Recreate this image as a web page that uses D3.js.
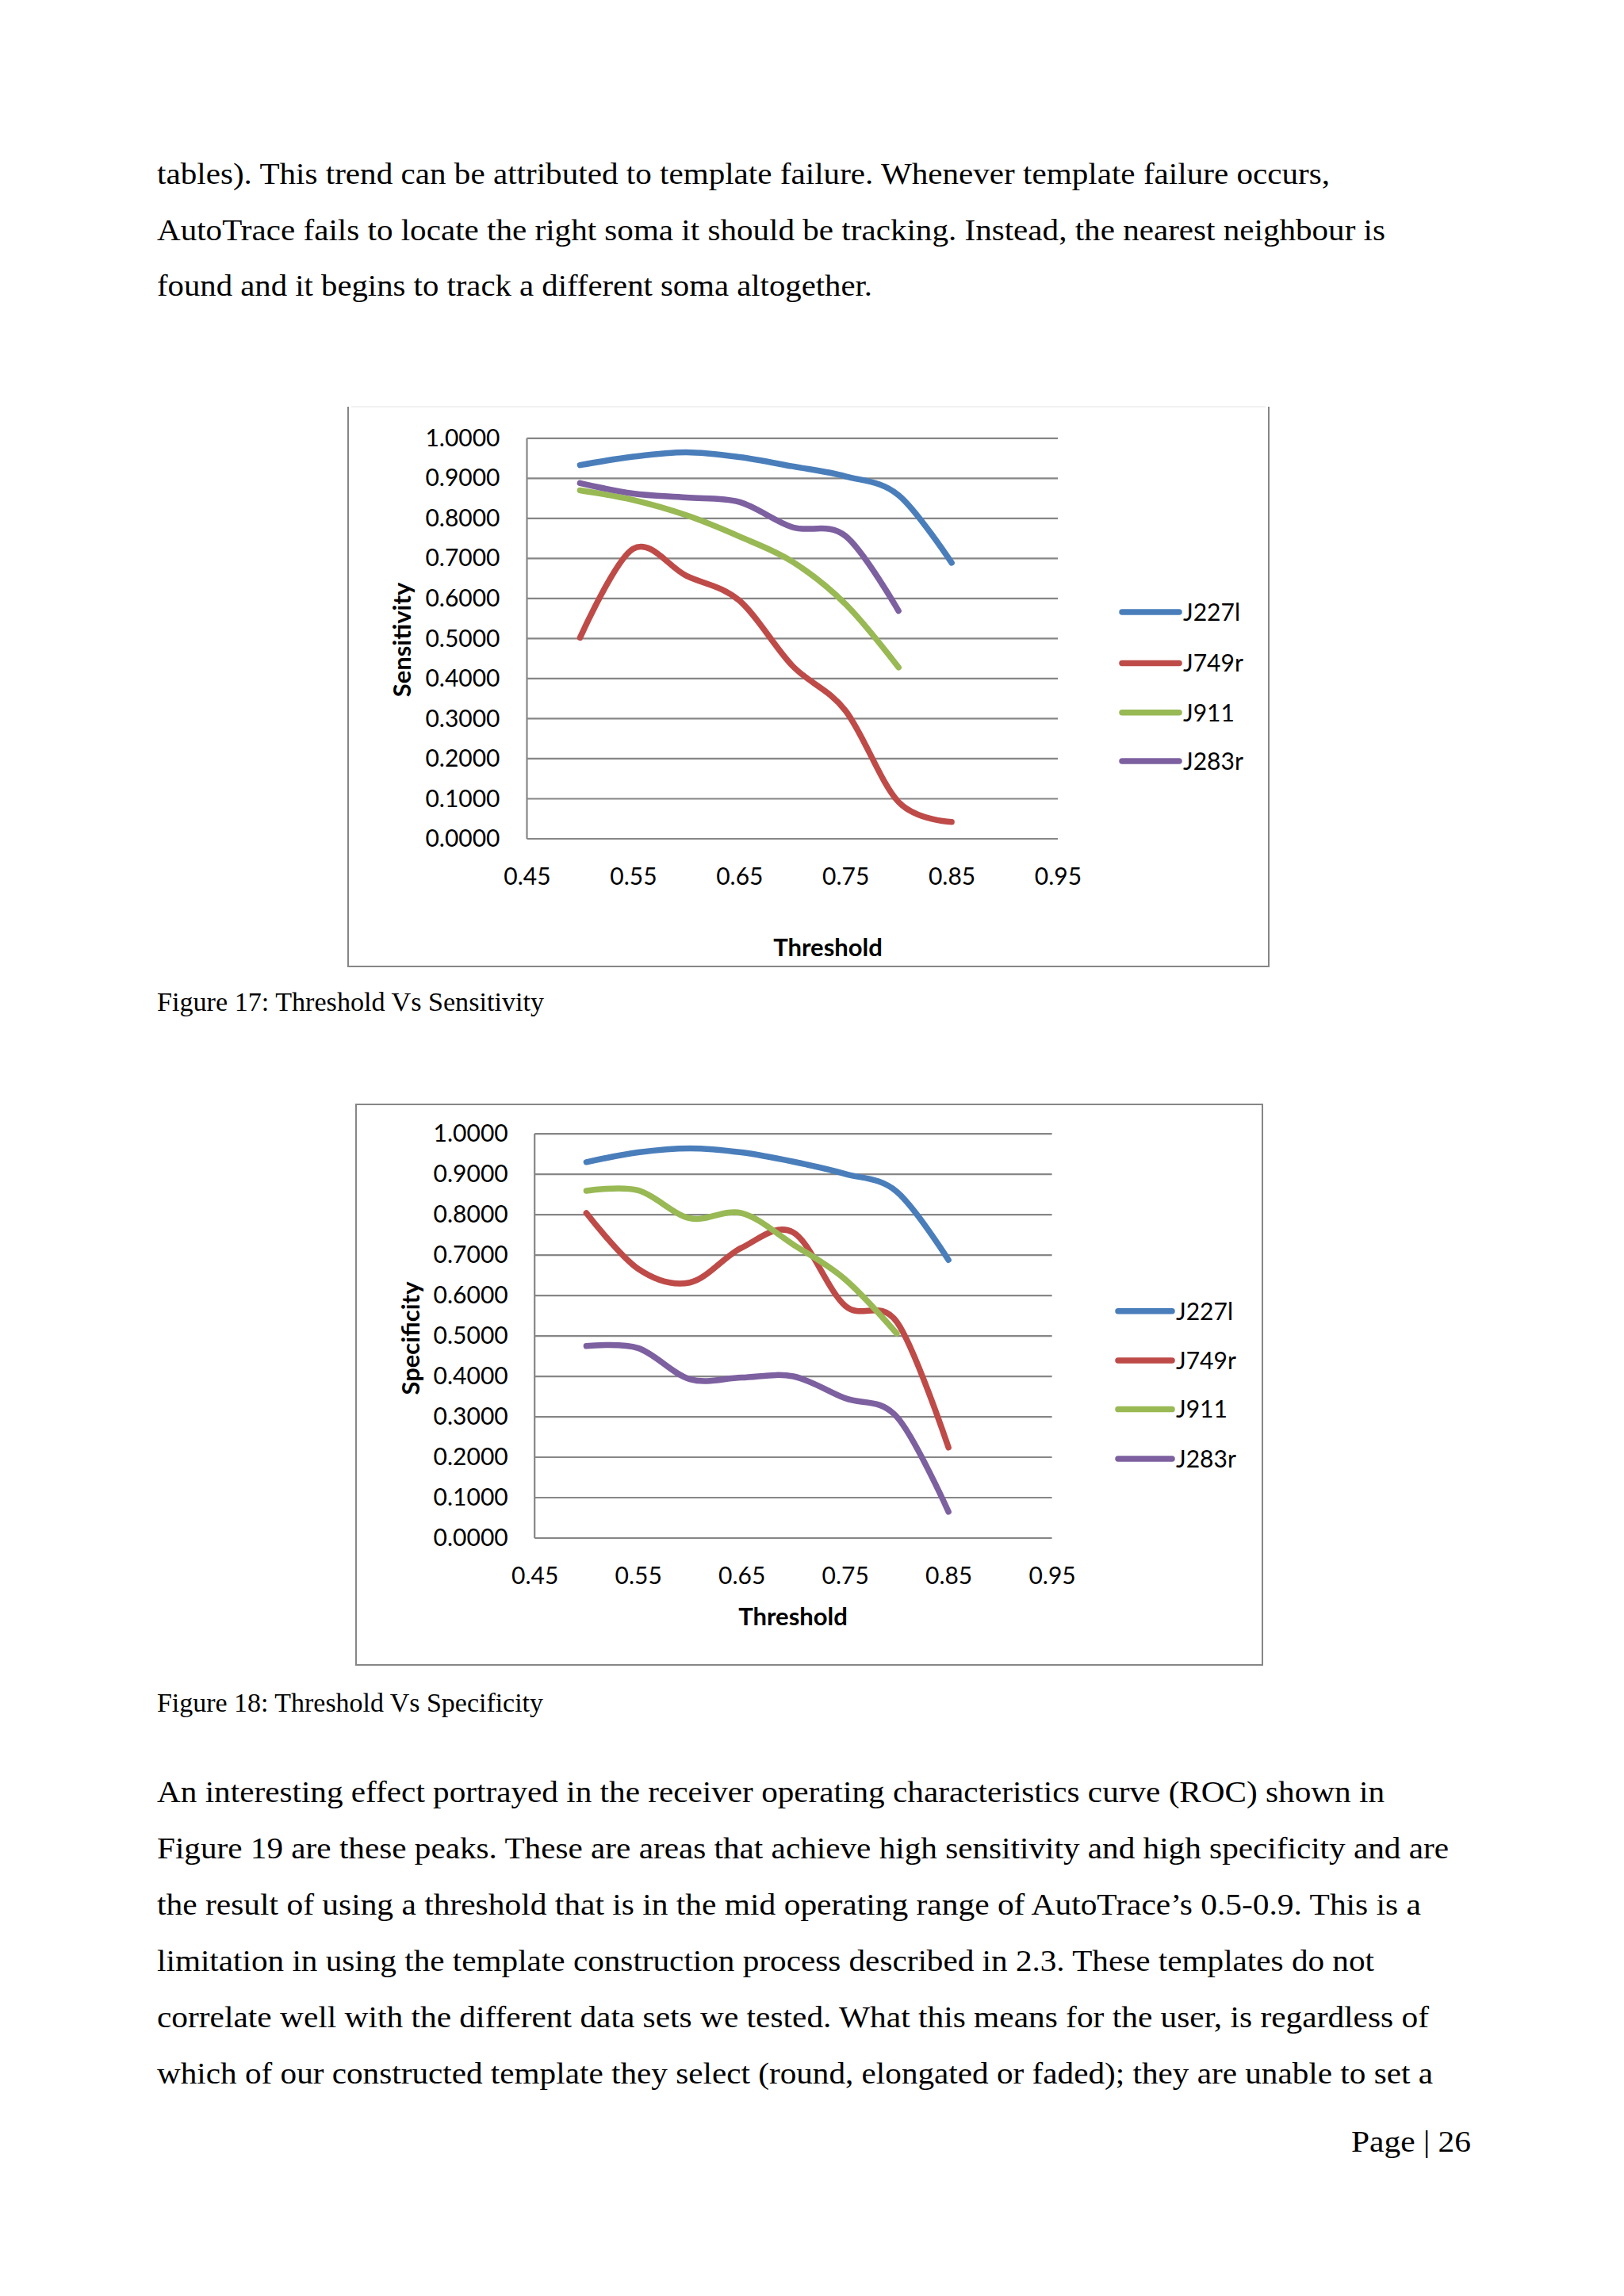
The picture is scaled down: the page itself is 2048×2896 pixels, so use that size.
<!DOCTYPE html>
<html>
<head>
<meta charset="utf-8">
<script src="https://cdn.jsdelivr.net/npm/d3@7"></script>
<style>
  html, body { margin: 0; padding: 0; background: #ffffff; }
  svg { display: block; }
</style>
</head>
<body>
<script>
// ---------------- DATA ----------------
const thresholds = [0.50, 0.55, 0.60, 0.65, 0.70, 0.75, 0.80, 0.85];
const seriesNames = ["J227l", "J749r", "J911", "J283r"];
const seriesColors = ["#4A7EBB", "#BE4B48", "#98B954", "#7D60A0"];

// Figure 17: Threshold vs Sensitivity
const sensJ227l = [0.933, 0.954, 0.965, 0.953, 0.930, 0.905, 0.858, 0.689];
const sensJ749r = [0.502, 0.724, 0.657, 0.595, 0.432, 0.320, 0.092, 0.042];
const sensJ911  = [0.870, 0.846, 0.808, 0.755, 0.692, 0.586, 0.428];
const sensJ283r = [0.888, 0.862, 0.852, 0.841, 0.778, 0.756, 0.569];

// Figure 18: Threshold vs Specificity
const specJ227l = [0.930, 0.954, 0.964, 0.954, 0.931, 0.901, 0.857, 0.688];
const specJ749r = [0.804, 0.666, 0.632, 0.718, 0.756, 0.575, 0.535, 0.224];
const specJ911  = [0.859, 0.860, 0.791, 0.804, 0.726, 0.640, 0.506];
const specJ283r = [0.475, 0.470, 0.393, 0.397, 0.400, 0.346, 0.300, 0.065];

const xTicks = [0.45, 0.55, 0.65, 0.75, 0.85, 0.95];
const yTicks = [0, 0.1, 0.2, 0.3, 0.4, 0.5, 0.6, 0.7, 0.8, 0.9, 1.0];

const para1 = [
  "tables). This trend can be attributed to template failure. Whenever template failure occurs,",
  "AutoTrace fails to locate the right soma it should be tracking. Instead, the nearest neighbour is",
  "found and it begins to track a different soma altogether."
];
const para2 = [
  "An interesting effect portrayed in the receiver operating characteristics curve (ROC) shown in",
  "Figure 19 are these peaks. These are areas that achieve high sensitivity and high specificity and are",
  "the result of using a threshold that is in the mid operating range of AutoTrace\u2019s 0.5-0.9. This is a",
  "limitation in using the template construction process described in 2.3. These templates do not",
  "correlate well with the different data sets we tested. What this means for the user, is regardless of",
  "which of our constructed template they select (round, elongated or faded); they are unable to set a"
];
const caption1 = "Figure 17: Threshold Vs Sensitivity";
const caption2 = "Figure 18: Threshold Vs Specificity";
const pageLabel = "Page | 26";

// ---------------- PAGE ----------------
const W = 2048, H = 2896;
const svg = d3.select("body").append("svg").attr("width", W).attr("height", H);
svg.append("rect").attr("width", W).attr("height", H).attr("fill", "#ffffff");

const serif = "'Liberation Serif', 'Times New Roman', serif";
const sans = "Lato, 'Open Sans', sans-serif";

function textLine(str, x, y, size, len, anchor) {
  const t = svg.append("text")
    .attr("x", x).attr("y", y)
    .attr("font-family", serif).attr("font-size", size)
    .attr("fill", "#000")
    .text(str);
  if (anchor) t.attr("text-anchor", anchor);
  if (len) t.attr("textLength", len).attr("lengthAdjust", "spacingAndGlyphs");
  return t;
}

// paragraph 1
const p1Ends = [1677, 1747, 1100];
para1.forEach((s, i) => textLine(s, 198, 232 + i * 70.5, 38, p1Ends[i] - 198));

// captions
textLine(caption1, 198, 1275, 33, 488);
textLine(caption2, 198, 2159, 33, 487);

// paragraph 2
const p2Ends = [1746, 1827, 1792, 1733, 1802, 1807];
para2.forEach((s, i) => textLine(s, 198, 2273 + i * 71, 38, p2Ends[i] - 198));

// page number
textLine(pageLabel, 1855, 2714, 38, 151, "end");

// ---------------- CHARTS ----------------
function drawChart(cfg) {
  const g = svg.append("g");
  const gray = "#868686";

  // frame
  const b = cfg.box;
  if (cfg.topBorder) {
    g.append("rect").attr("x", b.x0).attr("y", b.y0).attr("width", b.x1 - b.x0).attr("height", b.y1 - b.y0)
      .attr("fill", "none").attr("stroke", gray).attr("stroke-width", 2);
  } else {
    g.append("line").attr("x1", b.x0 + 4).attr("x2", b.x1 - 4).attr("y1", b.y0).attr("y2", b.y0)
      .attr("stroke", "#f1f1f1").attr("stroke-width", 2);
    g.append("path").attr("d", `M${b.x0},${b.y0} V${b.y1} H${b.x1} V${b.y0}`)
      .attr("fill", "none").attr("stroke", gray).attr("stroke-width", 2);
  }

  const x = d3.scaleLinear().domain([0.45, 0.95]).range([cfg.px0, cfg.px1]);
  const y = d3.scaleLinear().domain([0, 1]).range([cfg.py0, cfg.py1]);

  // gridlines
  g.append("g").selectAll("line").data(yTicks).join("line")
    .attr("x1", cfg.px0).attr("x2", cfg.px1)
    .attr("y1", d => y(d)).attr("y2", d => y(d))
    .attr("stroke", gray).attr("stroke-width", 2.2);
  // y axis line
  g.append("line").attr("x1", cfg.px0).attr("x2", cfg.px0)
    .attr("y1", y(0)).attr("y2", y(1))
    .attr("stroke", gray).attr("stroke-width", 2.2);

  // y axis labels
  const ya = g.append("g").attr("transform", `translate(${cfg.px0},0)`)
    .call(d3.axisLeft(y).tickValues(yTicks).tickFormat(d3.format(".4f")).tickSize(0).tickPadding(cfg.yPad));
  ya.select(".domain").remove();
  ya.selectAll("text").attr("font-family", sans).attr("font-size", 30).attr("fill", "#000");

  // x axis labels
  const xa = g.append("g").attr("transform", `translate(0,${cfg.xLabelY})`)
    .call(d3.axisBottom(x).tickValues(xTicks).tickFormat(d3.format(".2f")).tickSize(0).tickPadding(0));
  xa.select(".domain").remove();
  xa.selectAll("text").attr("font-family", sans).attr("font-size", 30).attr("fill", "#000").attr("dy", 0);

  // axis titles
  g.append("text").attr("transform", `translate(${cfg.yTitleX},${cfg.yTitleY}) rotate(-90)`)
    .attr("text-anchor", "middle").attr("font-family", sans).attr("font-weight", "bold")
    .attr("font-size", 31).attr("fill", "#000").text(cfg.yTitle);
  g.append("text").attr("x", cfg.xTitleX).attr("y", cfg.xTitleY)
    .attr("text-anchor", "middle").attr("font-family", sans).attr("font-weight", "bold")
    .attr("font-size", 31).attr("fill", "#000").text("Threshold");

  // series
  const line = d3.line().x(d => x(d[0])).y(d => y(d[1])).curve(d3.curveCardinal.tension(0));
  cfg.series.forEach((vals, i) => {
    const pts = vals.map((v, j) => [thresholds[j], v]);
    g.append("path").attr("d", line(pts))
      .attr("fill", "none").attr("stroke", seriesColors[i]).attr("stroke-width", 7.5)
      .attr("stroke-linecap", "round").attr("stroke-linejoin", "round");
  });

  // legend
  seriesNames.forEach((name, i) => {
    const ly = cfg.legY[i];
    g.append("line").attr("x1", cfg.legX0).attr("x2", cfg.legX1).attr("y1", ly).attr("y2", ly)
      .attr("stroke", seriesColors[i]).attr("stroke-width", 7.5).attr("stroke-linecap", "round");
    g.append("text").attr("x", cfg.legX1 + 5).attr("y", ly).attr("dy", "0.36em")
      .attr("font-family", sans).attr("font-size", 30).attr("fill", "#000").text(name);
  });
}

drawChart({
  box: { x0: 439, y0: 513, x1: 1600, y1: 1219 },
  topBorder: false,
  px0: 664.5, px1: 1334, py0: 1058, py1: 552.8,
  yPad: 34, xLabelY: 1116,
  yTitle: "Sensitivity", yTitleX: 518, yTitleY: 807,
  xTitleX: 1044, xTitleY: 1206,
  series: [sensJ227l, sensJ749r, sensJ911, sensJ283r],
  legX0: 1415, legX1: 1487, legY: [772, 836.5, 898.8, 960]
});

drawChart({
  box: { x0: 449, y0: 1393, x1: 1592, y1: 2100 },
  topBorder: true,
  px0: 674.2, px1: 1326.6, py0: 1940, py1: 1430.1,
  yPad: 33.5, xLabelY: 1998,
  yTitle: "Specificity", yTitleX: 528.5, yTitleY: 1688,
  xTitleX: 1000, xTitleY: 2050,
  series: [specJ227l, specJ749r, specJ911, specJ283r],
  legX0: 1410, legX1: 1478, legY: [1653.7, 1716, 1777.6, 1840]
});
</script>
</body>
</html>
